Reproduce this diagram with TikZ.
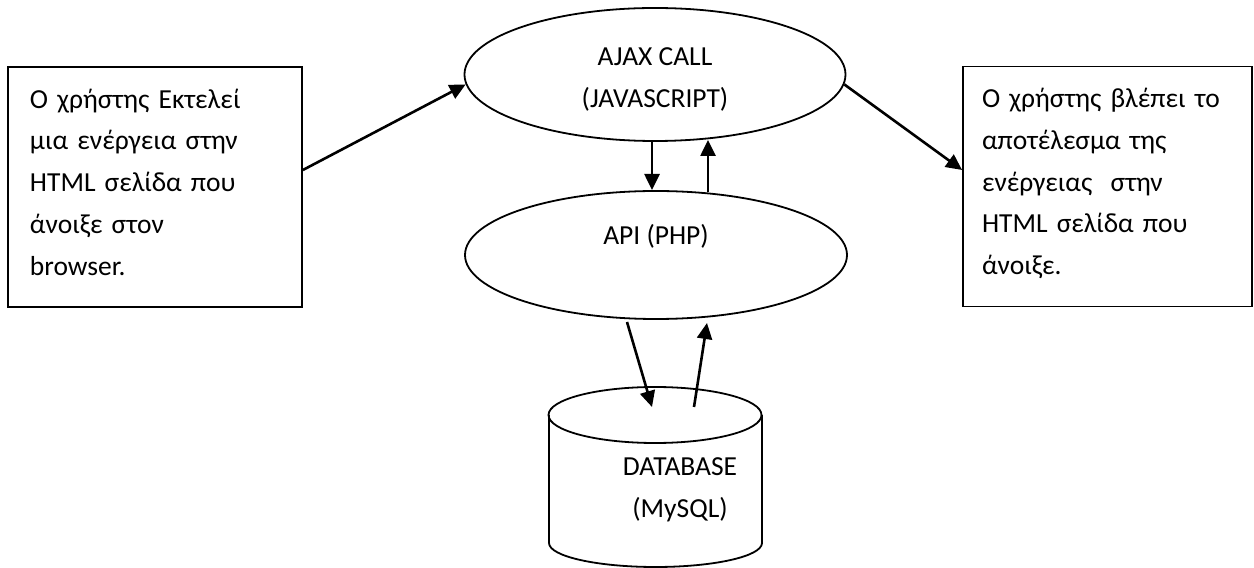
\documentclass[tikz,border=0pt]{standalone}
\usepackage{fontspec}
\setmainfont{Carlito}
\usetikzlibrary{positioning}
\usetikzlibrary{shapes.geometric}
\usetikzlibrary{arrows.meta}

\begin{document}
\begin{tikzpicture}[x=1pt, y=1pt,
    every node/.style={font=\fontsize{27.5pt}{41.7pt}\selectfont},
    box/.style={draw, line width=1.8pt, align=left, minimum height=240pt, inner xsep=22pt},
    oval/.style={draw, ellipse, line width=1.8pt, align=center, inner sep=0pt},
    arr/.style={-{Triangle[length=16pt, width=15pt]}, line width=2.6pt}]

    \useasboundingbox (0,0) rectangle (1254,568);

    % Nodes
    \node at (155,381) (user) [box, text width=250pt] {\mbox{Ο χρήστης Εκτελεί}\\\mbox{μια ενέργεια στην}\\\mbox{HTML σελίδα που}\\άνοιξε στον\\browser.\rule[-10pt]{0pt}{10pt}};
    \node at (1107.5,381.5) (result) [box, text width=251pt, inner xsep=19pt] {\mbox{Ο χρήστης βλέπει το}\\\mbox{αποτέλεσμα της}\\\mbox{ενέργειας\ \ στην}\\\mbox{HTML σελίδα που}\\άνοιξε.\rule[-10pt]{0pt}{10pt}};
    \node at (655,493.5) (ajax) [oval, minimum width=381pt, minimum height=133pt] {\rule{0pt}{28pt}AJAX CALL\\(JAVASCRIPT)};
    \node at (656,313) (api) [oval, minimum width=382pt, minimum height=128pt] {API (PHP)\\~};

    % Database cylinder
    \draw[line width=1.8pt] (549,153) -- (549,25) arc[start angle=180, end angle=360, x radius=106.5, y radius=24] -- (762,153);
    \draw[line width=1.8pt] (655,153) ellipse [x radius=106.5, y radius=28];
    \node at (680,78) (db) [align=center] {DATABASE\\(MySQL)};

    % Arrow ends
    \coordinate (callout) at (652,427);
    \coordinate (apiin) at (652,378);
    \coordinate (apiout) at (708,376);
    \coordinate (callin) at (708,428);
    \coordinate (query) at (627,246);
    \coordinate (dbin) at (652,161);
    \coordinate (dbout) at (694,161);
    \coordinate (reply) at (707,245);

    % Arrows
    \draw[arr] ([yshift=17pt]user.east) -- (ajax.183);
    \draw[arr] (ajax.357) -- ([yshift=16.5pt]result.west);
    \draw[arr] (callout) -- (apiin);
    \draw[arr] (apiout) -- (callin);
    \draw[arr] (query) -- (dbin);
    \draw[arr] (dbout) -- (reply);

\end{tikzpicture}
\end{document}
